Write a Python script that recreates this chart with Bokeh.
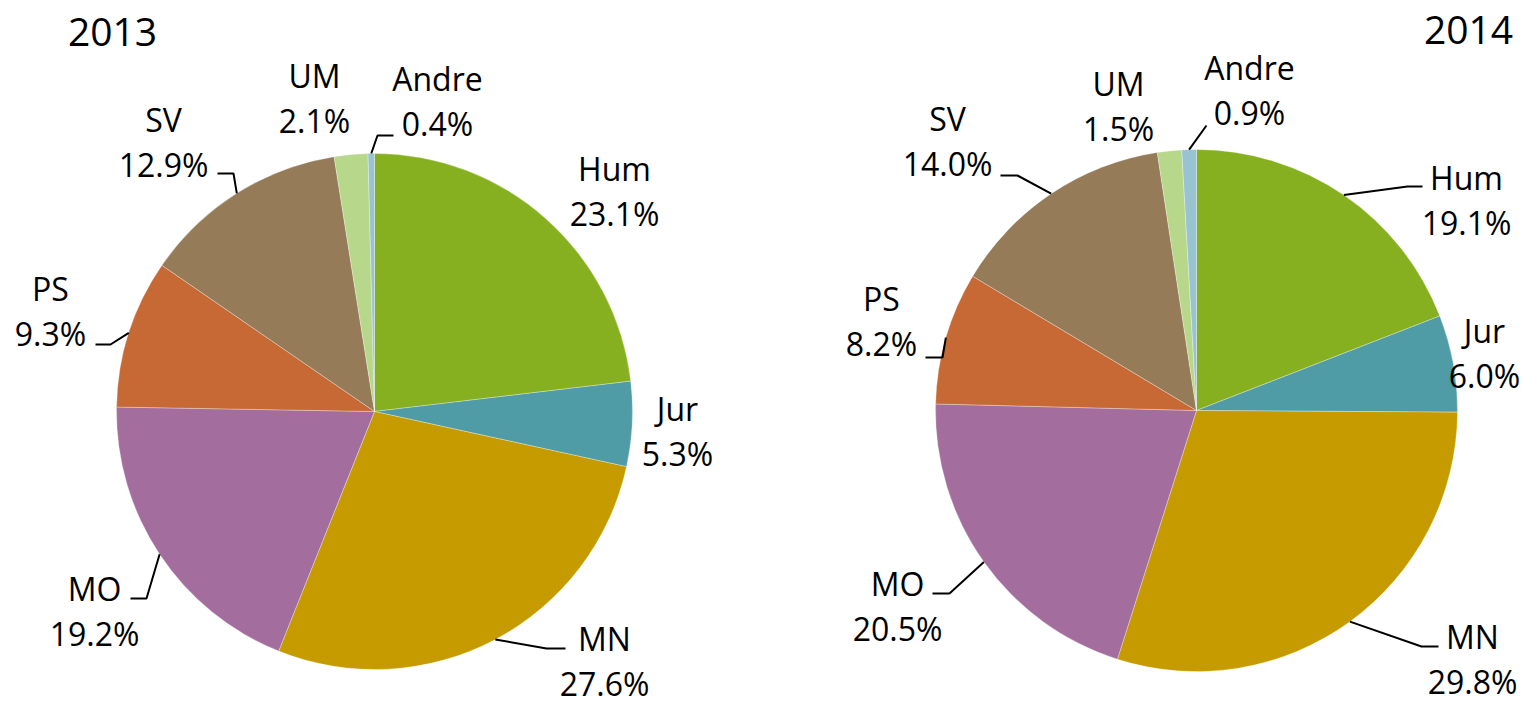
import math
from bokeh.plotting import figure
from bokeh.models import Range1d
from bokeh.core.properties import value
from bokeh.embed import file_html
from bokeh.resources import INLINE

# ---------------- data ----------------
categories = ["Hum", "Jur", "MN", "MO", "PS", "SV", "UM", "Andre"]
share_2013 = [23.1, 5.3, 27.6, 19.2, 9.3, 12.9, 2.1, 0.4]
share_2014 = [19.1, 6.0, 29.8, 20.5, 8.2, 14.0, 1.5, 0.9]
years = ["2013", "2014"]

# ---------------- styles / layout ----------------
colors = ["#87B020", "#4F9BA6", "#C59B00", "#A36E9E", "#C66935",
          "#957B58", "#B7D78B", "#98C4D2"]
FONT = value("Open Sans")
W, H = 1523, 705
PAGE_H = 721


def sy(py):
    return PAGE_H - py


# pie geometry in screen pixels (center x, center y, radius, title x, title y)
pie_layout = [
    dict(cx=374, cy=411, r=258, tx=112, ty=31),
    dict(cx=1196, cy=410, r=261, tx=1468, ty=29),
]
# label block centre and leader-line elbow points (screen pixels)
label_layout = [
    {
        "Hum": (614, 190, None),
        "Jur": (677, 430, None),
        "MN": (604, 660, [(546, 648), (565, 648)]),
        "MO": (94, 610, [(146, 598), (130, 598)]),
        "PS": (50, 310, [(110, 344), (95, 344)]),
        "SV": (163, 141, [(233, 173), (217, 173)]),
        "UM": (314, 97, None),
        "Andre": (437, 100, [(377, 135), (393, 135)]),
    },
    {
        "Hum": (1466, 199, [(1407, 186), (1422, 186)]),
        "Jur": (1484, 352, None),
        "MN": (1472, 658, [(1421, 646), (1438, 646)]),
        "MO": (897, 605, [(949, 593), (932, 593)]),
        "PS": (881, 320, [(942, 357), (925, 357)]),
        "SV": (947, 140, [(1017, 175), (1000, 175)]),
        "UM": (1118, 105, None),
        "Andre": (1249, 89, [(1206, 125)]),
    },
]

p = figure(width=W, height=H, x_range=Range1d(0, W), y_range=Range1d(PAGE_H - H, PAGE_H),
           x_axis_type=None, y_axis_type=None, toolbar_location=None,
           output_backend="svg", min_border=0, outline_line_color=None,
           background_fill_color="white", border_fill_color="white")
p.grid.visible = False

for shares, year, geo, labs in zip([share_2013, share_2014], years, pie_layout, label_layout):
    total = sum(shares)
    cum = 0.0
    starts, ends, mids = [], [], []
    for v in shares:
        a0 = math.pi / 2 - 2 * math.pi * cum / total
        cum += v
        a1 = math.pi / 2 - 2 * math.pi * cum / total
        starts.append(a0)
        ends.append(a1)
        mids.append((a0 + a1) / 2)
    cx, cy, r = geo["cx"], sy(geo["cy"]), geo["r"]
    p.wedge(x=[cx] * len(shares), y=[cy] * len(shares), radius=r,
            start_angle=starts, end_angle=ends, direction="clock",
            fill_color=colors, line_color="white", line_width=0.5, line_alpha=0.6)

    # title
    p.text(x=[geo["tx"]], y=[sy(geo["ty"])], text=[year], text_font=FONT,
           text_font_size="39px", text_align="center", text_baseline="middle",
           text_color="black")

    lx, ly, lt = [], [], []
    xs, ys = [], []
    for cat, v, m in zip(categories, shares, mids):
        bx, by, leader = labs[cat]
        lx += [bx, bx]
        ly += [sy(by - 22.5), sy(by + 22.5)]
        lt += [cat, f"{v:.1f}%"]
        if leader:
            ex = cx + r * math.cos(m)
            ey = cy + r * math.sin(m)
            xs.append([ex] + [pt[0] for pt in leader])
            ys.append([ey] + [sy(pt[1]) for pt in leader])
    p.text(x=lx, y=ly, text=lt, text_font=FONT, text_font_size="32px",
           text_align="center", text_baseline="middle", text_color="black")
    if xs:
        p.multi_line(xs=xs, ys=ys, line_color="black", line_width=2)

open("out.html", "w").write(file_html(p, INLINE))
